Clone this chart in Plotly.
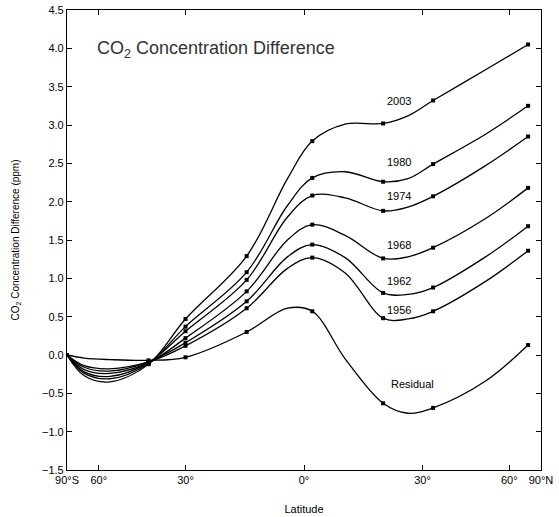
import numpy as np
import plotly.graph_objects as go

# Latitudes (degrees, negative = south) at which the curves are read
curve_lat = [-90, -68, -55, -41, -30, -14, -4, 2, 10, 19.5, 26, 33, 50, 71]
# Station latitudes (marked points)
station_lat = [-90, -41, -30, -14, 2, 19.5, 33, 71]

series_names = ["2003", "1980", "1974", "1968", "1962", "1956", "Residual"]
v2003 = [0, -0.27, -0.35, -0.12, 0.47, 1.29, 2.30, 2.79, 3.01, 3.02, 3.12, 3.32, 3.72, 4.05]
v1980 = [0, -0.24, -0.31, -0.11, 0.37, 1.08, 1.95, 2.31, 2.39, 2.26, 2.30, 2.49, 2.88, 3.25]
v1974 = [0, -0.22, -0.28, -0.10, 0.31, 0.98, 1.80, 2.08, 2.05, 1.88, 1.93, 2.07, 2.47, 2.85]
v1968 = [0, -0.19, -0.24, -0.10, 0.22, 0.83, 1.50, 1.70, 1.56, 1.26, 1.28, 1.40, 1.78, 2.18]
v1962 = [0, -0.16, -0.21, -0.09, 0.16, 0.70, 1.28, 1.44, 1.27, 0.81, 0.79, 0.88, 1.28, 1.68]
v1956 = [0, -0.14, -0.18, -0.09, 0.12, 0.61, 1.13, 1.27, 1.07, 0.48, 0.47, 0.57, 0.96, 1.36]
vresid = [0, -0.04, -0.06, -0.07, -0.03, 0.30, 0.61, 0.57, -0.05, -0.63, -0.76, -0.69, -0.34, 0.13]
series_values = [v2003, v1980, v1974, v1968, v1962, v1956, vresid]

# Label anchor positions (latitude, value)
label_lat = [23.6, 23.6, 23.6, 23.6, 23.6, 23.6, 27.3]
label_val = [3.31, 2.52, 2.08, 1.44, 0.97, 0.59, -0.38]

tick_lat = [-90, -60, -30, 0, 30, 60, 90]
tick_text = ["90°S", "60°", "30°", "0°", "30°", "60°", "90°N"]
ytick_vals = [-1.5, -1.0, -0.5, 0.0, 0.5, 1.0, 1.5, 2.0, 2.5, 3.0, 3.5, 4.0, 4.5]


def sx(lat):
    return np.sin(np.radians(np.asarray(lat, dtype=float)))


fig = go.Figure()
idx = [curve_lat.index(s) for s in station_lat]
for name, vals in zip(series_names, series_values):
    fig.add_trace(go.Scatter(
        x=sx(curve_lat), y=vals, mode="lines",
        line=dict(color="black", width=1.3, shape="spline", smoothing=1.0),
        showlegend=False, hoverinfo="skip"))
    fig.add_trace(go.Scatter(
        x=sx(station_lat), y=[vals[i] for i in idx], mode="markers",
        marker=dict(color="black", size=4, symbol="square"),
        showlegend=False, name=name))

for name, la, lv in zip(series_names, label_lat, label_val):
    fig.add_annotation(x=float(sx(la)), y=lv, text=name, showarrow=False,
                       font=dict(family="Liberation Sans, Arial", size=11, color="black"))

fig.add_annotation(x=float(sx(-62)), y=3.99, xanchor="left", text="CO<sub>2</sub> Concentration Difference",
                   showarrow=False, font=dict(family="Liberation Sans, Arial", size=18, color="#333"))

fig.update_layout(
    width=559, height=517,
    margin=dict(l=67, r=18, t=10, b=47),
    paper_bgcolor="white", plot_bgcolor="white",
    font=dict(family="Liberation Sans, Arial", size=11, color="black"),
    xaxis=dict(range=[-1, 1], tickvals=list(sx(tick_lat)), ticktext=tick_text,
               ticks="inside", ticklen=5, tickcolor="black", showgrid=False, zeroline=False,
               showline=True, linecolor="black", linewidth=1.2, mirror="ticks", automargin=False,
               ticklabeloverflow="allow",
               title=dict(text="Latitude", font=dict(size=11), standoff=20),
               tickfont=dict(size=11)),
    yaxis=dict(range=[-1.5, 4.5], tickvals=ytick_vals, tickformat=".1f",
               ticks="inside", ticklen=5, tickcolor="black", showgrid=False, zeroline=False,
               showline=True, linecolor="black", linewidth=1.2, mirror="ticks", automargin=False,
               ticklabeloverflow="allow",
               title=dict(text="CO<sub>2</sub> Concentration Difference (ppm)", font=dict(size=10), standoff=20),
               tickfont=dict(size=11)),
)

# remove the default 8px page margin so the figure fills the window exactly
fig.write_html("out.html", config={"displayModeBar": False},
               post_script="document.body.style.margin='0';")
